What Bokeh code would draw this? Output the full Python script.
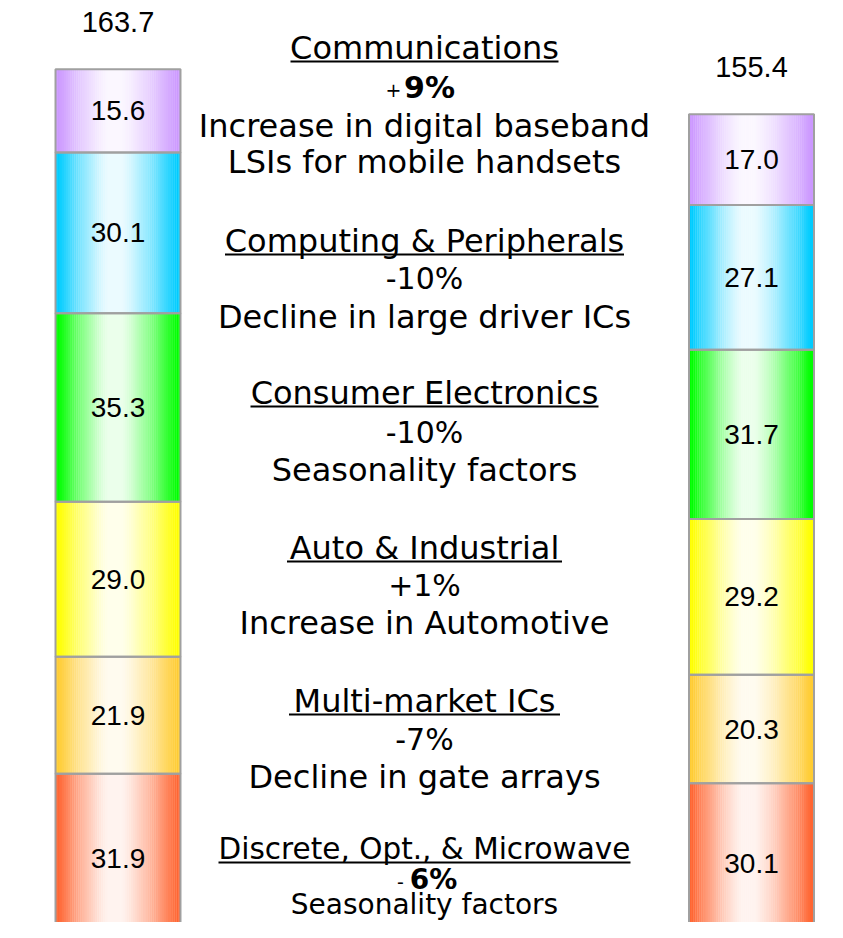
from bokeh.plotting import figure
from bokeh.models import Range1d, ColumnDataSource
from bokeh.core.properties import value
from bokeh.embed import file_html
from bokeh.resources import INLINE

# ---------------- data ----------------
segments = ["Discrete, Opt., & Microwave", "Multi-market ICs", "Auto & Industrial",
            "Consumer Electronics", "Computing & Peripherals", "Communications"]  # bottom -> top
left_vals = [31.9, 21.9, 29.0, 35.3, 30.1, 15.6]
right_vals = [30.1, 20.3, 29.2, 31.7, 27.1, 17.0]
totals = [163.7, 155.4]
edge_colors = ["#FF6633", "#FFCC33", "#FFFF00", "#00FF00", "#00CCFF", "#CC99FF"]

titles = ["Communications", "Computing & Peripherals", "Consumer Electronics",
          "Auto & Industrial", "Multi-market ICs", "Discrete, Opt., & Microwave"]
pct_sign = ["+", "-", "-", "+", "-", "-"]
pct_num = ["9%", "10%", "10%", "1%", "7%", "6%"]
pct_bold = [True, False, False, False, False, True]
descs = [["Increase in digital baseband", "LSIs for mobile handsets"],
         ["Decline in large driver ICs"],
         ["Seasonality factors"],
         ["Increase in Automotive"],
         ["Decline in gate arrays"],
         ["Seasonality factors"]]

# ---------------- layout ----------------
W, H = 827, 922
SCALE = 5.34          # px per unit
BASE = 943.5          # picture y of zero
def py(pic_y):
    return (BASE - pic_y) / SCALE

p = figure(width=W, height=H, output_backend="svg", toolbar_location=None,
           x_range=Range1d(0, W), y_range=Range1d(py(H), py(0)),
           min_border=0, outline_line_color=None)
p.axis.visible = False
p.grid.visible = False
p.background_fill_color = "white"

bar_centers = [117.5, 751.0]
bar_width = 125.0
NSTRIP = 60

def hex2rgb(h):
    h = h.lstrip("#")
    return tuple(int(h[i:i + 2], 16) for i in (0, 2, 4))

def mix(c1, c2, t):
    return "#%02x%02x%02x" % tuple(int(round(a + (b - a) * t)) for a, b in zip(c1, c2))

for bi, vals in enumerate([left_vals, right_vals]):
    xc = bar_centers[bi]
    x0 = xc - bar_width / 2
    bottoms, tops = [], []
    acc = 0.0
    for v in vals:
        bottoms.append(acc)
        acc += v
        tops.append(acc)
    # gradient strips
    L, R, B, T, C = [], [], [], [], []
    for si, v in enumerate(vals):
        edge = hex2rgb(edge_colors[si])
        center = tuple(e + (255 - e) * 0.92 for e in edge)
        for k in range(NSTRIP):
            u = (k + 0.5) / NSTRIP
            d = (u - 0.47) / 0.53 if u > 0.47 else (0.47 - u) / 0.47
            tt = max(0.0, min(1.0, (d - 0.1) / 0.85))
            tt = tt ** 1.3
            L.append(x0 + bar_width * k / NSTRIP)
            R.append(x0 + bar_width * (k + 1) / NSTRIP + 0.3)
            B.append(bottoms[si])
            T.append(tops[si])
            C.append(mix(center, edge, tt))
    p.quad(left=L, right=R, bottom=B, top=T, fill_color=C, line_color=None)
    # outlines
    p.quad(left=[x0] * len(vals), right=[x0 + bar_width] * len(vals),
           bottom=bottoms, top=tops, fill_color=None, line_color="#A0A0A0", line_width=2)
    # value labels
    src = ColumnDataSource(dict(x=[xc] * len(vals), y=[(b + t) / 2 for b, t in zip(bottoms, tops)],
                                t=["%.1f" % v for v in vals]))
    p.text(x="x", y="y", text="t", source=src, text_align="center", text_baseline="middle",
           text_font=value("Liberation Sans"), text_font_size="28px", text_color="black")
    p.text(x=[xc], y=[acc], text=["%.1f" % totals[bi]], y_offset=-47,
           text_align="center", text_baseline="middle",
           text_font=value("Liberation Sans"), text_font_size="29px", text_color="black")

# ---------------- annotations ----------------
TX = 424
FS = "32px"
title_y = [47, 240, 392, 547, 700, 848]
pct_y = [87, 278, 432, 585, 739, 879]
desc_y = [[125, 161], [316], [469], [622], [776], [904]]
title_w = [268, 399, 348, 275, 271, 412]
title_fs = [FS, FS, FS, FS, FS, "29.5px"]
pct_fs = ["30px"] * 5 + ["28px"]
desc_fs = [FS] * 5 + ["28px"]

for i, t in enumerate(titles):
    ty = title_y[i]
    p.text(x=[TX], y=[py(ty)], text=[t], text_align="center", text_baseline="middle",
           text_font=value("DejaVu Sans"), text_font_size=title_fs[i], text_color="black")
    p.segment(x0=[TX - title_w[i] / 2], x1=[TX + title_w[i] / 2], y0=[py(ty + 14)], y1=[py(ty + 14)],
              line_color="black", line_width=2)
    pyy = pct_y[i]
    if pct_bold[i]:
        sx = TX - 31 if pct_sign[i] == "+" else TX - 24
        nx = TX + 5 if pct_sign[i] == "+" else TX + 9
        p.text(x=[sx], y=[py(pyy + 2)], text=[pct_sign[i]],
               text_align="center", text_baseline="middle",
               text_font=value("DejaVu Sans"), text_font_size="19px", text_color="black")
        p.text(x=[nx], y=[py(pyy)], text=[pct_num[i]], text_align="center", text_baseline="middle",
               text_font=value("DejaVu Sans"), text_font_size=pct_fs[i], text_font_style="bold",
               text_color="black")
    else:
        p.text(x=[TX], y=[py(pyy)], text=[pct_sign[i] + pct_num[i]], text_align="center",
               text_baseline="middle", text_font=value("DejaVu Sans"), text_font_size=pct_fs[i],
               text_color="black")
    for d, dy in zip(descs[i], desc_y[i]):
        p.text(x=[TX], y=[py(dy)], text=[d], text_align="center", text_baseline="middle",
               text_font=value("DejaVu Sans"), text_font_size=desc_fs[i], text_color="black")

open("out.html", "w").write(file_html(p, INLINE))
